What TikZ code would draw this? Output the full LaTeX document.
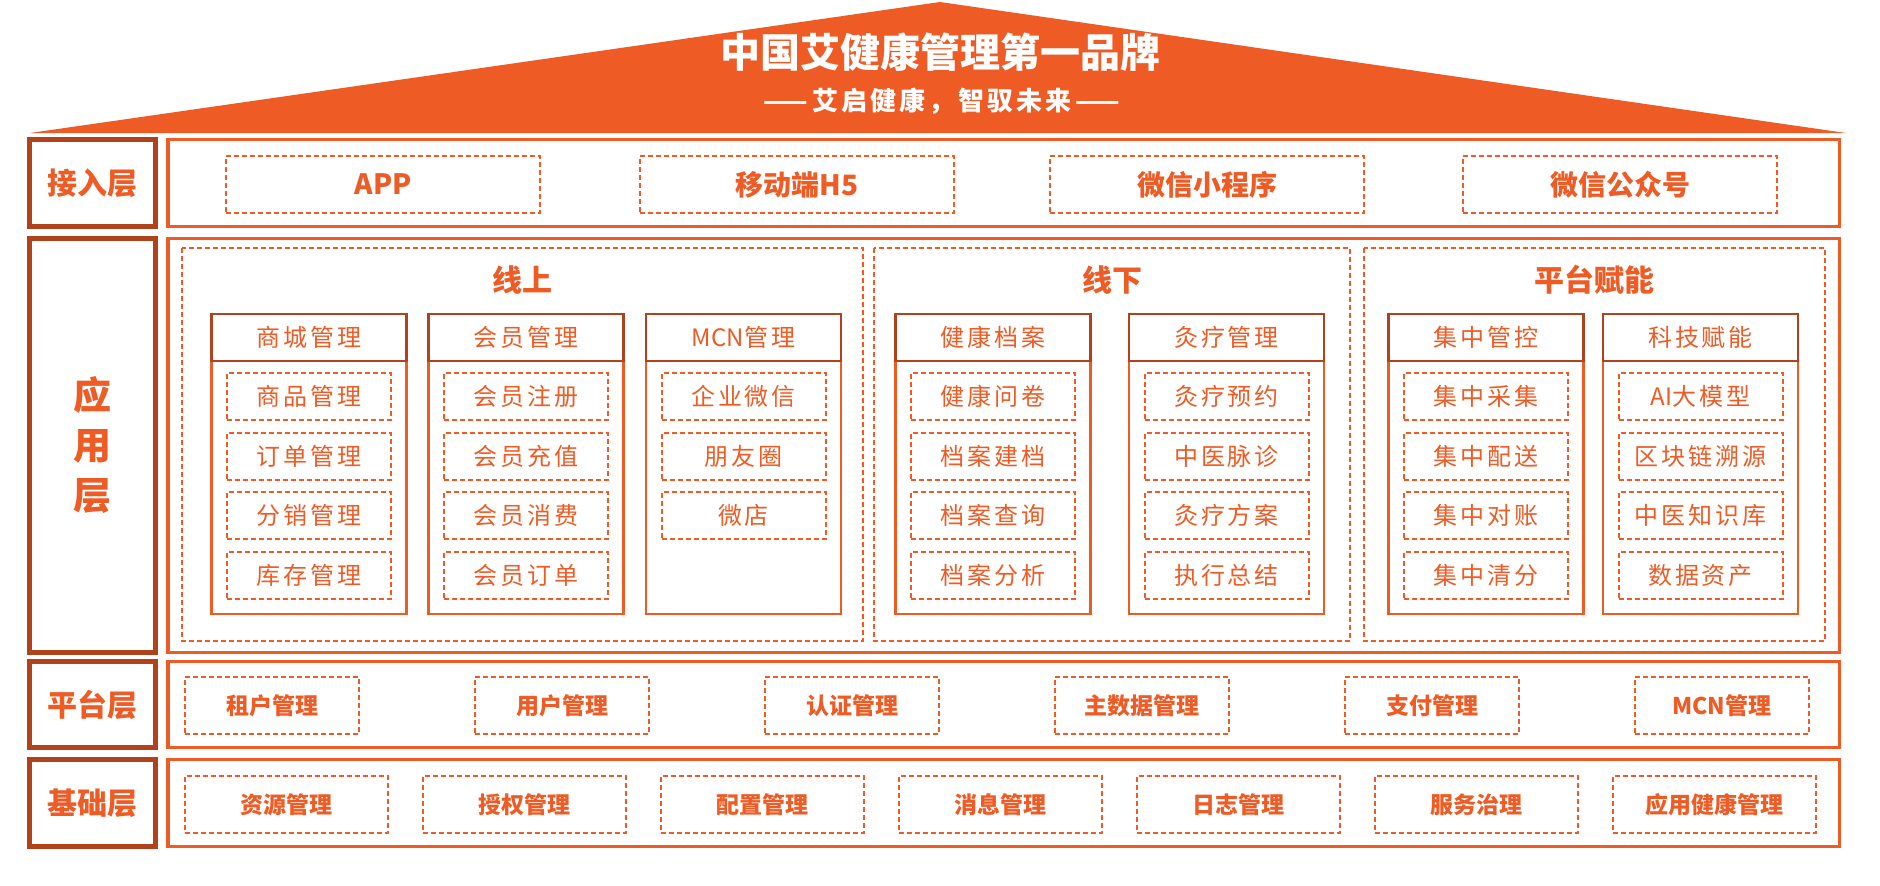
\documentclass[tikz,border=0pt]{standalone}
\usepackage{fontspec}
\setmainfont{Noto Sans CJK SC}
\newfontfamily\spaced{Noto Sans CJK SC}[LetterSpace=12]
\newcommand{\tight}[1]{{\addfontfeature{LetterSpace=0}#1}}
\usepackage{xcolor}
\definecolor{flame}{HTML}{EF5B25}
\definecolor{rust}{HTML}{B0421C}
\usepackage{tikz}
\usetikzlibrary{positioning}

\begin{document}
\begin{tikzpicture}[x=1pt, y=-1pt,
    layerlabel/.style={draw=rust, line width=5pt, minimum width=126pt, inner sep=0pt,
      text=flame, font=\bfseries\fontsize{30}{30}\selectfont},
    layerframe/.style={draw=flame, line width=3.5pt},
    entry/.style={draw=flame, dash pattern=on 5pt off 3pt, line width=2pt, text=flame, inner sep=0pt},
    groupbox/.style={draw=flame, dash pattern=on 5pt off 3pt, line width=2pt},
    grouptitle/.style={text=flame, font=\bfseries\fontsize{30}{30}\selectfont},
    colbody/.style={draw=flame, line width=2.5pt},
    colhead/.style={draw=rust, line width=2.5pt, fill=white, minimum width=195pt, minimum height=47pt,
      inner sep=0pt, text=flame, font=\spaced\fontsize{24}{24}\selectfont},
    colitem/.style={entry, minimum width=164pt, minimum height=47pt, font=\spaced\fontsize{24}{24}\selectfont}
  ]
  \useasboundingbox (0,0) rectangle (1880,886);

  % Roof
  \fill[flame] (30,133) -- (940,2) -- (1846,133) -- cycle;
  \node[text=white, font=\bfseries\fontsize{40}{40}\selectfont] (brand) at (940,52) {中国艾健康管理第一品牌};
  \node[text=white, font=\spaced\bfseries\fontsize{26}{26}\selectfont] (motto) at (942,101) {——\,艾启健康，智驭未来\,——};

  % Layer labels and frames
  \foreach \lname/\ltext/\yc/\lh in {access/接入层/183/87, platform/平台层/704.5/86, base/基础层/803/87}
  {
    \node[layerlabel, minimum height=\lh pt] (\lname) at (92.5,\yc) {\ltext};
    \draw[layerframe] (167.75,\yc-\lh/2) rectangle (1839.25,\yc+\lh/2);
  }
  \node[layerlabel, minimum height=414pt, align=center, font=\bfseries\fontsize{38}{50}\selectfont] (apps) at (92.5,445.5) {应\\用\\层};
  \draw[layerframe] (167.75,238.5) rectangle (1839.25,652.5);

  % Access layer
  \foreach \x/\t [count=\i] in {383/APP, 797/移动端H5, 1207/微信小程序, 1620/微信公众号}
    \node[entry, minimum width=314pt, minimum height=57pt, font=\bfseries\fontsize{28}{28}\selectfont] (acc\i) at (\x,184.5) {\t};

  % Application layer groups
  \draw[groupbox] (182,248) rectangle (863,641);
  \node[grouptitle] (online) at (522,280) {线上};
  \draw[groupbox] (874,248) rectangle (1350,641);
  \node[grouptitle] (offline) at (1112,280) {线下};
  \draw[groupbox] (1364,248) rectangle (1825,641);
  \node[grouptitle] (enable) at (1594.5,280) {平台赋能};

  % Columns with their items
  \foreach \cx/\colname/\colitems [count=\c] in {309/商城管理/{商品管理,订单管理,分销管理,库存管理},
      526/会员管理/{会员注册,会员充值,会员消费,会员订单}, 743.5/\tight{MCN}管理/{企业微信,朋友圈,微店},
      993/健康档案/{健康问卷,档案建档,档案查询,档案分析}, 1226.5/灸疗管理/{灸疗预约,中医脉诊,灸疗方案,执行总结},
      1486/集中管控/{集中采集,集中配送,集中对账,集中清分}, 1700.5/科技赋能/{\tight{AI}大模型,区块链溯源,中医知识库,数据资产}}
  {
    \draw[colbody] (\cx-97.5,314) rectangle (\cx+97.5,614);
    \node[colhead] (head\c) at (\cx,337.5) {\colname};
    \foreach \leaf [count=\k] in \colitems
      \node[colitem] (item\c-\k) at (\cx,337+59.5*\k) {\leaf};
  }

  % Platform layer
  \foreach \x/\t [count=\i] in {272/租户管理, 562/用户管理, 852/认证管理, 1142/主数据管理, 1432/支付管理, 1722/MCN管理}
    \node[entry, minimum width=174pt, minimum height=57pt, font=\bfseries\fontsize{23}{23}\selectfont] (plat\i) at (\x,705.5) {\t};

  % Base layer
  \foreach \x/\t [count=\i] in {286.5/资源管理, 524.5/授权管理, 762.5/配置管理, 1000.5/消息管理, 1238.5/日志管理, 1476.5/服务治理, 1714.5/应用健康管理}
    \node[entry, minimum width=203pt, minimum height=57pt, font=\bfseries\fontsize{23}{23}\selectfont] (found\i) at (\x,804.5) {\t};
\end{tikzpicture}
\end{document}
